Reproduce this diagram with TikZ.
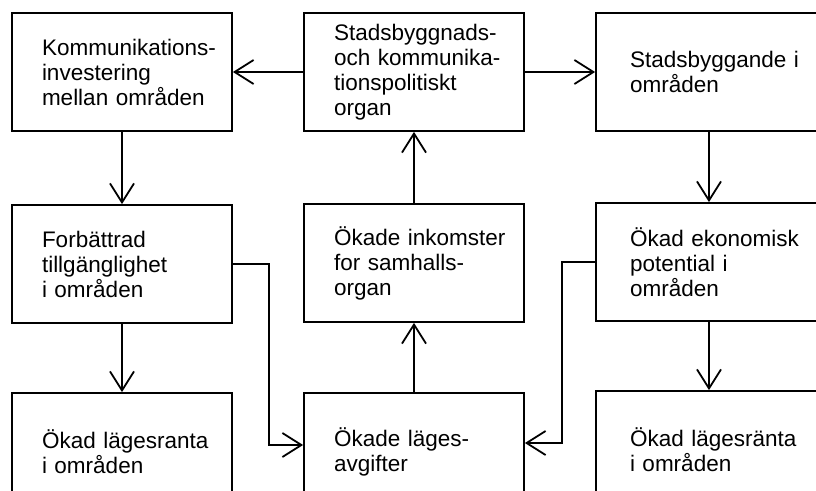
\documentclass[tikz,border=0pt]{standalone}
\usepackage{fontspec}
\setmainfont{Liberation Sans}
\usetikzlibrary{arrows.meta}

\newcommand{\blkfont}{\fontsize{22.5}{25}\selectfont\hyphenpenalty10000\exhyphenpenalty10000\relax}

\begin{document}
\begin{tikzpicture}[x=1pt,y=-1pt,
    blk/.style={draw, line width=1.8pt, minimum height=118pt, inner xsep=30pt,
        text width=160pt, align=left, font=\blkfont},
    rblk/.style={blk, inner xsep=34pt, text width=158pt},
    arr/.style={line width=1.8pt, -{Straight Barb[length=19pt,width=24pt]}}]
    \clip (0,0) rectangle (816,490);

    % Top row
    \node[blk] (inv) at (122,72) {Kommunikations-\\investering\\mellan~områden};
    \node[blk] (organ) at (414,72) {Stadsbyggnads-\\och~kommunika-\\tionspolitiskt\\organ};
    \node[rblk] (stad) at (709,72) {Stadsbyggande~i\\områden};

    % Middle row
    \node[blk] (tillg) at (122,264) {Forbättrad\\tillgänglighet\\i~områden};
    \node[blk] (inkomst) at (414,263) {Ökade~inkomster\\for~samhalls-\\organ};
    \node[rblk] (potential) at (709,262) {Ökad~ekonomisk\\potential~i\\områden};

    % Bottom row
    \node[blk] (ranta) at (122,452) {Ökad~lägesranta\\i~områden};
    \node[blk] (avg) at (414,452) {Ökade~läges-\\avgifter};
    \node[rblk] (rantaR) at (709,450) {Ökad~lägesränta\\i~områden};

    % Arrows
    \draw[arr] (organ.west) -- (inv.east);
    \draw[arr] (organ.east) -- (stad.west);
    \draw[arr] (inv.south) -- (tillg.north);
    \draw[arr] (stad.south) -- (potential.north);
    \draw[arr] (tillg.south) -- (ranta.north);
    \draw[arr] (potential.south) -- (rantaR.north);
    \draw[arr] (inkomst.north) -- (organ.south);
    \draw[arr] (avg.north) -- (inkomst.south);
    \draw[arr] (tillg.east) -- ++(36,0) |- ([yshift=7pt]avg.west);
    \draw[arr] (potential.west) -- ++(-33,0) |- ([yshift=9pt]avg.east);
\end{tikzpicture}
\end{document}
